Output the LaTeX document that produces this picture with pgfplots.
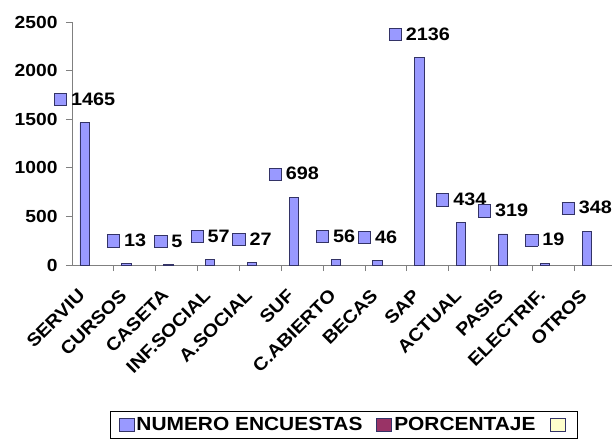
\documentclass[border=0pt]{standalone}
\usepackage{fontspec}
\setmainfont{Liberation Sans}[FakeStretch=1.1]
\usepackage{pgfplots}
\pgfplotsset{compat=1.18}
\definecolor{barfill}{HTML}{9999FF}
\definecolor{baredge}{HTML}{333366}
\definecolor{pctfill}{HTML}{993366}
\definecolor{emptyfill}{HTML}{FFFFCC}
\definecolor{axisgray}{HTML}{808080}
\newcommand{\keybox}[1]{{\setlength{\fboxsep}{0pt}\setlength{\fboxrule}{0.8bp}\fcolorbox{baredge}{#1}{\rule{0pt}{11.5bp}\rule{11.5bp}{0pt}}}}
\newcommand{\chartfont}{\fontsize{18bp}{20bp}\selectfont\bfseries}
\newcommand{\tickfont}{\fontsize{17.5bp}{20bp}\selectfont\bfseries}
\newcommand{\legfont}{\fontsize{19bp}{21bp}\selectfont\bfseries}

\begin{document}
\begin{tikzpicture}
\useasboundingbox (-72bp,-179bp) rectangle (540bp,265bp);
\begin{axis}[scale only axis, width=544bp, height=243bp,
  xmin=-0.5, xmax=12.5, ymin=0, ymax=2500,
  axis lines=left, axis line style={-, draw=axisgray, line width=0.8bp},
  % labels sit a little left of the category centre, as in the original
  xtick={-0.38,0.62,...,11.62},
  xticklabels={SERVIU,CURSOS,CASETA,INF.SOCIAL,A.SOCIAL,SUF,C.ABIERTO,BECAS,SAP,ACTUAL,PASIS,ELECTRIF.,OTROS},
  major x tick style={draw=none},
  minor xtick={0.5,1.5,...,12.5},
  minor x tick style={draw=axisgray, line width=0.8bp},
  ytick={0,500,...,2500},
  y tick style={draw=axisgray, line width=0.8bp},
  tick align=outside, major tick length=6bp, minor tick length=6bp,
  yticklabel style={font=\tickfont, xshift=-5bp},
  xticklabel style={font=\chartfont, rotate=45, anchor=north east, xshift=-8.5bp, yshift=-8.5bp},
  /pgf/number format/.cd, 1000 sep={}, assume math mode=true, /pgfplots/.cd,
  legend columns=3,
  legend style={at={(0.5,-0.601)}, anchor=north, draw=black, line width=0.6bp,
    font=\legfont, inner xsep=8bp, inner ysep=4bp,
    nodes={inner xsep=2bp},
    /tikz/every even column/.append style={column sep=12bp}},
]
\addplot[ybar, bar width=9.3bp, bar shift=-8.3bp, fill=barfill, draw=baredge, line width=0.8bp,
  forget plot,
  nodes near coords={\keybox{barfill}\hspace{4bp}\pgfmathprintnumber{\pgfplotspointmeta}},
  every node near coord/.append style={font=\chartfont, text=black, inner sep=0pt, xshift=-8.3bp, yshift=16bp}]
  coordinates {(0,1465) (1,13) (2,5) (3,57) (4,27) (5,698) (6,56) (7,46) (8,2136) (9,434) (10,319) (11,19) (12,348)};
\addlegendimage{legend image code/.code={\draw[fill=barfill, draw=baredge, line width=0.8bp] (0bp,-6.5bp) rectangle (15bp,6.5bp);}}
\addlegendentry{NUMERO ENCUESTAS}
\addlegendimage{legend image code/.code={\draw[fill=pctfill, draw=baredge, line width=0.8bp] (0bp,-6.5bp) rectangle (15bp,6.5bp);}}
\addlegendentry{PORCENTAJE}
\addlegendimage{legend image code/.code={\draw[fill=emptyfill, draw=baredge, line width=0.8bp] (0bp,-6.5bp) rectangle (15bp,6.5bp);}}
\addlegendentry{}
\end{axis}
\end{tikzpicture}
\end{document}
